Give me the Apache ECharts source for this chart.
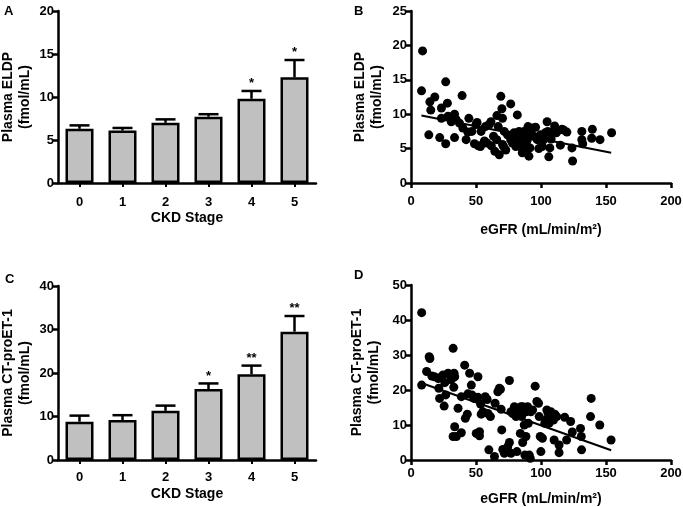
<!DOCTYPE html>
<html>
<head>
<meta charset="utf-8">
<script src="https://cdn.jsdelivr.net/npm/echarts@6/dist/echarts.min.js"></script>
<style>html,body{margin:0;padding:0;background:#fff;}#c{width:683px;height:507px;}</style>
</head>
<body>
<div id="c"></div>
<script>
// ---- Data ----
const stages = ['0', '1', '2', '3', '4', '5'];
const eldpMean = [6.3, 6.1, 7.0, 7.7, 9.8, 12.3];
const eldpUpper = [6.7, 6.4, 7.4, 8.0, 10.7, 14.3];
const eldpStars = ['', '', '', '', '*', '*'];
const ctMean = [8.8, 9.2, 11.3, 16.3, 19.7, 29.5];
const ctUpper = [10.2, 10.3, 12.5, 17.6, 21.7, 33.1];
const ctStars = ['', '', '', '*', '**', '**'];

const eldpScatter = [
  [8.9,19.2],[8.1,13.4],[13.7,7.0],[14.5,11.8],[15.2,10.6],[18.3,12.5],[22.1,6.6],[23.4,10.9],[23.4,9.4],
  [26.7,14.7],[26.7,5.7],[28,11.6],[28.5,9.7],[31,8.9],[33.5,10.0],[33.5,6.6],[34.8,9.2],[37.3,8.7],
  [39.3,12.7],[39.9,8.0],[42.4,6.3],[43.7,7.4],[44.5,9.4],[46.8,7.5],[48.8,5.7],[50,8.5],[50.8,8.8],
  [51.8,5.4],[53.4,5.3],[53.9,7.5],[55.9,5.8],[57.2,8.2],[58.5,5.8],[60.2,8.5],[61.5,8.9],[63.5,6.8],
  [64.5,4.6],[66.1,9.8],[67.1,8.2],[67.9,4.1],[69.1,12.6],[69.9,10.8],[70.4,9.4],[70.4,5.6],[71.2,5.3],
  [71.7,7.5],[72.9,4.8],[74.2,7.0],[76.7,11.5],[76.7,6.3],[78,5.8],[79.3,7.3],[80.6,5.3],[81.8,9.9],
  [81.8,6.3],[83.1,7.5],[84.4,5.8],[85.6,5.0],[86.4,6.8],[86.9,7.5],[87.4,5.3],[88.2,4.6],[88.9,6.0],
  [89.5,6.3],[90,8.2],[90.7,3.9],[91.5,5.1],[92,7.3],[93.3,8.0],[94.5,6.8],[95.8,8.1],[97.1,6.3],
  [98.3,5.0],[99.6,7.0],[100.9,5.3],[102.2,6.3],[103.4,7.3],[104.7,8.9],[105.2,7.5],[106,3.8],[106.8,5.1],
  [107.8,6.4],[109.3,7.5],[110.5,8.3],[111.8,7.3],[112.8,7.6],[114.9,5.5],[116.1,7.8],[117.4,7.7],
  [119.9,7.4],[123.8,5.1],[124.3,3.2],[131.4,7.5],[131.4,6.3],[132.1,5.7],[139,6.5],[139.5,7.8],
  [145.4,6.3],[154.3,7.3],[56.5,6.1],[61.8,5.4],[66,6.3],[85.6,4.4]
];
const eldpFit = [[8, 9.8], [154, 4.4]];

const ctScatter = [
  [8.2,42.1],[8.2,21.4],[12,25.3],[14,29.5],[14.5,29.0],[16,24],[18,23.8],[21,23.3],[21.4,20.5],[22,17.6],
  [23.4,23.8],[24.7,24.3],[26,22.1],[26.7,18.6],[25.5,15.4],[28.5,24.8],[29.8,24.3],[31,22.9],[32.4,31.9],
  [33.1,24.8],[33.6,23.8],[32.9,20.8],[33.6,9.5],[32.4,6.7],[34.9,6.7],[36.2,14.8],[38.7,18.1],[38.7,7.8],
  [41.3,27.1],[41.8,11.9],[43.3,13.1],[43.8,18.9],[45.1,24.8],[46.4,21.4],[46.9,18.6],[48.4,17.6],[50.2,7.6],
  [51.5,23.8],[51.5,17.9],[52.7,8.1],[52.7,6.9],[53.5,16.0],[54,13.1],[55.3,13.8],[57.1,18.1],[58.6,17.3],
  [59.1,13.3],[59.9,2.9],[61.1,12.4],[64.2,1.0],[64.7,16.2],[66.8,19.5],[68,20.5],[68.8,20.2],[69.3,14.5],
  [69.8,8.6],[70.6,3.0],[71.8,1.9],[74.4,3.8],[75.7,22.7],[75.7,5.0],[76.9,1.9],[76.9,13.8],[78.2,13.3],
  [79.5,15.2],[80.8,12.4],[81.5,2.4],[82.1,13.5],[83.3,13.8],[84.1,7.6],[84.6,15.2],[85.1,12.4],[85.9,5.0],
  [85.9,15.2],[87.1,10.0],[87.6,1.4],[88.4,6.7],[88.4,13.8],[89.7,15.2],[90.2,10.5],[91,1.4],[91.7,0.5],
  [92.2,13.8],[93.5,14.3],[95.5,21.1],[96.8,16.7],[98.1,16.2],[98.6,12.4],[99.4,6.7],[99.9,2.4],[101.1,6.2],
  [102.9,10.5],[103.7,11.4],[104.5,14.3],[105.5,13.3],[106.2,10.5],[107.5,13.8],[108.3,12.4],[109.6,11.4],
  [110.1,5.7],[110.6,13.1],[112.1,12.4],[113.9,4.3],[113.9,2.1],[118.2,12.2],[119.7,5.7],[122.8,11.0],
  [124.1,8.0],[130.4,9.0],[131,6.7],[131.2,2.9],[138.1,12.4],[138.6,17.6],[145.2,10.0],[153.9,5.7]
];
const ctFit = [[8, 22.0], [154, 2.8]];

const eldpTicks = {min: 0, max: 20, interval: 5};
const eldpScTicks = {min: 0, max: 25, interval: 5};
const ctTicks = {min: 0, max: 40, interval: 10};
const ctScTicks = {min: 0, max: 50, interval: 10};
const egfrTicks = {min: 0, max: 200, interval: 50};

// ---- Styling helpers ----
const FONT = 'Liberation Sans';
const axisLineS = {show: true, lineStyle: {color: '#000', width: 2.5}};
const labelS = {color: '#000', fontFamily: FONT, fontWeight: 'bold', fontSize: 13};
const nameS = {color: '#000', fontFamily: FONT, fontWeight: 'bold', fontSize: 14, lineHeight: 17};

function yAxis(idx, ticks, name, gap) {
  return {
    type: 'value', gridIndex: idx, min: ticks.min, max: ticks.max, interval: ticks.interval,
    name: name, nameLocation: 'middle', nameRotate: 90, nameGap: gap, nameTextStyle: nameS,
    axisLine: axisLineS, axisTick: {show: true, inside: false, length: 5, lineStyle: {color: '#000', width: 2.5}},
    axisLabel: Object.assign({margin: 4}, labelS), splitLine: {show: false}
  };
}
function xCat(idx, gap, margin) {
  return {
    type: 'category', gridIndex: idx, data: stages,
    name: 'CKD Stage', nameLocation: 'middle', nameGap: gap, nameTextStyle: nameS,
    axisLine: axisLineS, axisTick: {show: true, alignWithLabel: true, length: 4, lineStyle: {color: '#000', width: 2}},
    axisLabel: Object.assign({margin: margin}, labelS)
  };
}
function xVal(idx, gap, margin) {
  return {
    type: 'value', gridIndex: idx, min: egfrTicks.min, max: egfrTicks.max, interval: egfrTicks.interval,
    name: 'eGFR (mL/min/m²)', nameLocation: 'middle', nameGap: gap, nameTextStyle: nameS,
    axisLine: axisLineS, axisTick: {show: true, length: 5, lineStyle: {color: '#000', width: 2.5}},
    axisLabel: Object.assign({margin: margin}, labelS), splitLine: {show: false}
  };
}
function barSeries(idx, vals) {
  return {
    type: 'bar', xAxisIndex: idx, yAxisIndex: idx, data: vals, barWidth: 28,
    itemStyle: {color: '#c0c0c0', borderColor: '#000', borderWidth: 2.5}, z: 2
  };
}
function errSeries(idx, means, uppers, stars) {
  return {
    type: 'custom', xAxisIndex: idx, yAxisIndex: idx, z: 3,
    data: means.map((m, i) => [i, m, uppers[i]]),
    renderItem: function (params, api) {
      const i = api.value(0);
      const p0 = api.coord([i, api.value(1)]);
      const p1 = api.coord([i, api.value(2)]);
      const hw = 10;
      const ch = [
        {type: 'line', shape: {x1: p0[0], y1: p0[1], x2: p1[0], y2: p1[1]}, style: {stroke: '#000', lineWidth: 2.5}},
        {type: 'line', shape: {x1: p1[0] - hw, y1: p1[1], x2: p1[0] + hw, y2: p1[1]}, style: {stroke: '#000', lineWidth: 2.5}}
      ];
      const s = stars[params.dataIndex];
      if (s) ch.push({type: 'text', x: p1[0], y: p1[1] - 1,
        style: {text: s, align: 'center', verticalAlign: 'bottom', font: 'bold 13px "Liberation Sans"', fill: '#000'}});
      return {type: 'group', children: ch};
    }
  };
}
function scatSeries(idx, pts) {
  return {type: 'scatter', xAxisIndex: idx, yAxisIndex: idx, data: pts, symbolSize: 9,
    itemStyle: {color: '#000', opacity: 1}, z: 3};
}
function fitSeries(idx, pts) {
  return {type: 'line', xAxisIndex: idx, yAxisIndex: idx, data: pts, symbol: 'none',
    lineStyle: {color: '#000', width: 2}, z: 4};
}
function letter(t, x, y) {
  return {type: 'text', left: x, top: y, style: {text: t, font: 'bold 13px "Liberation Sans"', fill: '#000'}};
}

const chart = echarts.init(document.getElementById('c'), null, {renderer: 'canvas'});
chart.setOption({
  backgroundColor: '#fff',
  animation: false,
  graphic: [letter('A', 4, 5), letter('B', 354, 5), letter('C', 5, 273), letter('D', 354, 269)],
  grid: [
    {left: 58, top: 11, width: 258, height: 172, outerBoundsMode: 'none'},
    {left: 411, top: 11, width: 260, height: 172, outerBoundsMode: 'none'},
    {left: 58, top: 286, width: 258, height: 174, outerBoundsMode: 'none'},
    {left: 411, top: 285, width: 260, height: 175, outerBoundsMode: 'none'}
  ],
  xAxis: [xCat(0, 27, 13), xVal(1, 39, 12), xCat(2, 26, 11), xVal(3, 31, 7)],
  yAxis: [
    yAxis(0, eldpTicks, 'Plasma ELDP\n(fmol/mL)', 24),
    yAxis(1, eldpScTicks, 'Plasma ELDP\n(fmol/mL)', 25),
    yAxis(2, ctTicks, 'Plasma CT-proET-1\n(fmol/mL)', 24),
    yAxis(3, ctScTicks, 'Plasma CT-proET-1\n(fmol/mL)', 28)
  ],
  series: [
    barSeries(0, eldpMean), errSeries(0, eldpMean, eldpUpper, eldpStars),
    scatSeries(1, eldpScatter), fitSeries(1, eldpFit),
    barSeries(2, ctMean), errSeries(2, ctMean, ctUpper, ctStars),
    scatSeries(3, ctScatter), fitSeries(3, ctFit)
  ]
});
</script>
</body>
</html>
